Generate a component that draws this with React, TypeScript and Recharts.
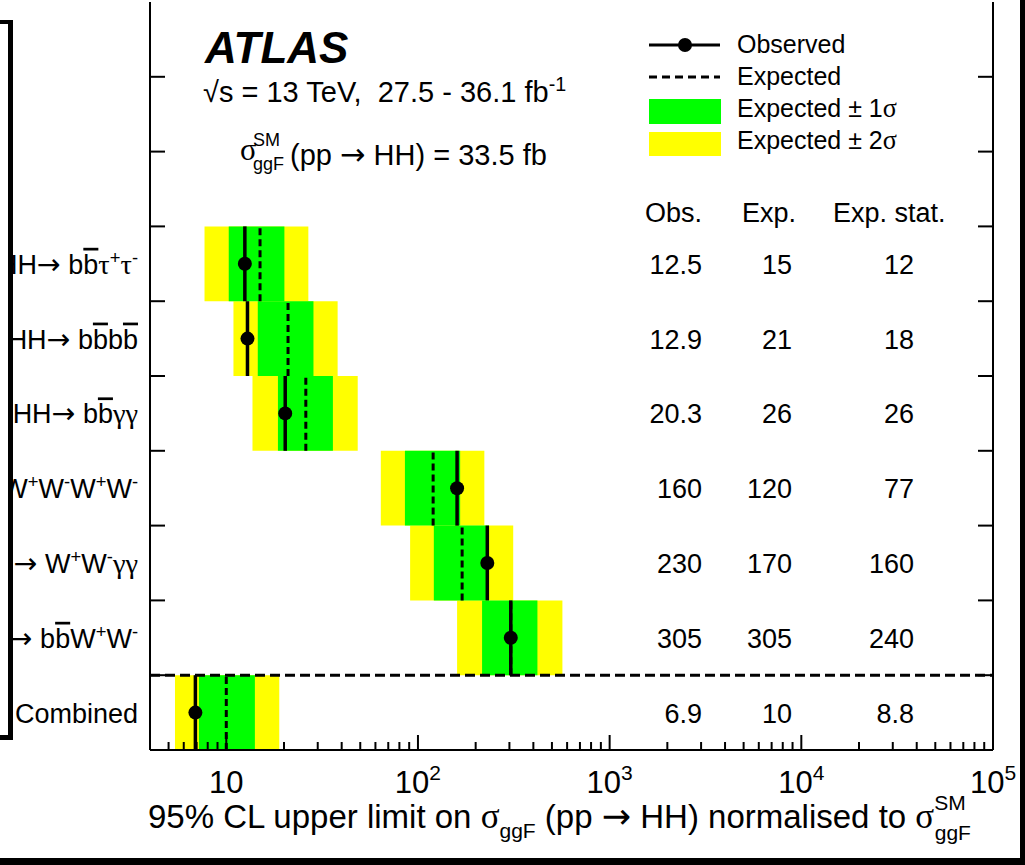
import React from 'react';
import { ComposedChart, XAxis, YAxis, ReferenceArea, ReferenceLine, Scatter, Legend } from 'recharts';

// rows from bottom (index 0) to top
const channels = ['Combined', 'HH→ bb̄W⁺W⁻', 'HH→ W⁺W⁻γγ', 'HH→ W⁺W⁻W⁺W⁻', 'HH→ bb̄γγ', 'HH→ bb̄bb̄', 'HH→ bb̄τ⁺τ⁻'];
const observed = [6.9, 305, 230, 160, 20.3, 12.9, 12.5];
const expected = [10, 305, 170, 120, 26, 21, 15];
const minus2 = [5.4, 160, 91, 64, 13.7, 10.9, 7.7];
const minus1 = [7.2, 216, 121, 85.5, 18.6, 14.6, 10.3];
const plus1 = [14.1, 420, 235, 166, 36, 28.5, 20.1];
const plus2 = [18.9, 567, 314, 222, 48.5, 38.1, 26.8];
const obsText = ['6.9', '305', '230', '160', '20.3', '12.9', '12.5'];
const expText = ['10', '305', '170', '120', '26', '21', '15'];
const statText = ['8.8', '240', '160', '77', '26', '18', '12'];
const tableHeaders = ['Obs.', 'Exp.', 'Exp. stat.'];

const majorTicks = [10, 100, 1000, 10000, 100000];
const minorTicks = [5, 6, 7, 8, 9, 20, 30, 40, 50, 60, 70, 80, 90, 200, 300, 400, 500, 600, 700, 800, 900,
  2000, 3000, 4000, 5000, 6000, 7000, 8000, 9000, 20000, 30000, 40000, 50000, 60000, 70000, 80000, 90000];
const xTicks = [...minorTicks, ...majorTicks].sort((a, b) => a - b);
const rowBoundaries = [1, 2, 3, 4, 5, 6, 7, 8, 9];
const rowCenters = [0.5, 1.5, 2.5, 3.5, 4.5, 5.5, 6.5];
const yTicks = [...rowBoundaries, ...rowCenters].sort((a, b) => a - b);

const legendItems = ['Observed', 'Expected', 'Expected ± 1σ', 'Expected ± 2σ'];

const SANS = "'Liberation Sans', Arial, Helvetica, sans-serif";
const SERIF = "'Liberation Serif', 'DejaVu Serif', serif";
const SYM = "'DejaVu Sans', sans-serif";
const GREEN = '#00ff00';
const YELLOW = '#ffff00';

type Tok = { t: string; k: 'n' | 'sup' | 'bar' | 'greek' | 'arrow' };
function tokenize(s: string): Tok[] {
  const chars = Array.from(s);
  const out: Tok[] = [];
  const supMap: Record<string, string> = { '⁺': '+', '⁻': '-', '¹': '1' };
  for (let i = 0; i < chars.length; i++) {
    const c = chars[i];
    if (c === '\u0304') continue;
    if (chars[i + 1] === '\u0304') { out.push({ t: c, k: 'bar' }); continue; }
    if (supMap[c]) { out.push({ t: supMap[c], k: 'sup' }); continue; }
    if ('τγσ'.includes(c)) { out.push({ t: c, k: 'greek' }); continue; }
    if (c === '→') { out.push({ t: c, k: 'arrow' }); continue; }
    const last = out[out.length - 1];
    if (last && last.k === 'n') last.t += c; else out.push({ t: c, k: 'n' });
  }
  return out;
}

function Rich({ s, size }: { s: string; size: number }) {
  const toks = tokenize(s);
  let cur = 0;
  return (
    <>
      {toks.map((tk, i) => {
        const want = tk.k === 'sup' ? -0.38 * size : 0;
        const dy = want - cur;
        cur = want;
        if (tk.k === 'sup') return <tspan key={i} dy={dy} fontSize={size * 0.68}>{tk.t}</tspan>;
        if (tk.k === 'bar') return <tspan key={i} dy={dy} textDecoration="overline" style={{ textDecoration: 'overline' }}>{tk.t}</tspan>;
        if (tk.k === 'greek') return <tspan key={i} dy={dy} fontFamily={SERIF} fontSize={size * 1.05}>{tk.t}</tspan>;
        if (tk.k === 'arrow') return <tspan key={i} dy={dy} fontFamily={SYM} fontSize={size * 1.05}>{tk.t}</tspan>;
        return <tspan key={i} dy={dy}>{tk.t}</tspan>;
      })}
    </>
  );
}

const isMajor = (v: number) => Math.abs(Math.log10(v) - Math.round(Math.log10(v))) < 1e-6;

function XTickBottom(props: any) {
  const { x, y, payload } = props;
  const v = payload.value;
  const major = isMajor(v);
  const e = Math.round(Math.log10(v));
  return (
    <g>
      <line x1={x} x2={x} y1={y} y2={y - (major ? 15 : 8)} stroke="#000" strokeWidth={2} />
      {major && (
        <text x={x} y={y + 43} textAnchor="middle" fontFamily={SANS} fontSize={31} fill="#000">
          10{e > 1 && <tspan dy={-13} fontSize={21}>{e}</tspan>}
        </text>
      )}
    </g>
  );
}

function XTickTop(props: any) {
  const { x, y, payload } = props;
  const major = isMajor(payload.value);
  return <line x1={x} x2={x} y1={y} y2={y + (major ? 15 : 8)} stroke="#000" strokeWidth={2} />;
}

function YTickLeft(props: any) {
  const { x, y, payload } = props;
  const v = payload.value;
  if (Number.isInteger(v)) return <line x1={x} x2={x + 15} y1={y} y2={y} stroke="#000" strokeWidth={2} />;
  const row = Math.round(v - 0.5);
  return (
    <text x={x - 12} y={y + 10} textAnchor="end" fontFamily={SANS} fontSize={27} fill="#000" style={{ whiteSpace: 'pre' }}>
      <Rich s={channels[row]} size={27} />
    </text>
  );
}

function YTickRight(props: any) {
  const { x, y, payload } = props;
  const v = payload.value;
  if (Number.isInteger(v)) return <line x1={x} x2={x - 15} y1={y} y2={y} stroke="#000" strokeWidth={2} />;
  const row = Math.round(v - 0.5);
  return (
    <g fontFamily={SANS} fontSize={27} fill="#000">
      <text x={x - 291} y={y + 10} textAnchor="end">{obsText[row]}</text>
      <text x={x - 201} y={y + 10} textAnchor="end">{expText[row]}</text>
      <text x={x - 79} y={y + 10} textAnchor="end">{statText[row]}</text>
    </g>
  );
}

function LegendBox() {
  const tx = 97;
  return (
    <svg width={340} height={140} style={{ overflow: 'visible' }}>
      <g fontFamily={SANS} fontSize={25} fill="#000">
        <line x1={9} x2={80} y1={20} y2={20} stroke="#000" strokeWidth={3} />
        <circle cx={45} cy={20} r={7} fill="#000" />
        <text x={tx} y={28}><Rich s={legendItems[0]} size={25} /></text>
        <line x1={9} x2={80} y1={52} y2={52} stroke="#000" strokeWidth={3} strokeDasharray="8 5" />
        <text x={tx} y={60}><Rich s={legendItems[1]} size={25} /></text>
        <rect x={9} y={74} width={72} height={25} fill={GREEN} />
        <text x={tx} y={92}><Rich s={legendItems[2]} size={25} /></text>
        <rect x={9} y={107} width={72} height={24} fill={YELLOW} />
        <text x={tx} y={124}><Rich s={legendItems[3]} size={25} /></text>
      </g>
    </svg>
  );
}

const obsPoints = observed.map((v, i) => ({ x: v, y: i + 0.5 }));

export default function App() {
  const rows = channels.map((_, i) => i);
  return (
    <div style={{ position: 'absolute', left: 0, top: 0, width: 1025, height: 865, background: '#fff', overflow: 'hidden' }}>
      <ComposedChart width={1025} height={865} margin={{ top: 2, right: 0, bottom: 0, left: 0 }}>
        <XAxis xAxisId="b" orientation="bottom" type="number" dataKey="x" scale="log" domain={[4, 100000]} allowDataOverflow
          ticks={xTicks} interval={0} height={115} tickSize={0} tickMargin={0} tickLine={false}
          axisLine={{ stroke: '#000', strokeWidth: 2 }} tick={(p: any) => <XTickBottom {...p} />} />
        <XAxis xAxisId="t" orientation="top" type="number" dataKey="x" scale="log" domain={[4, 100000]} allowDataOverflow
          ticks={xTicks} interval={0} height={0} tickSize={0} tickMargin={0} tickLine={false}
          axisLine={{ stroke: '#000', strokeWidth: 2 }} tick={(p: any) => <XTickTop {...p} />} />
        <YAxis yAxisId="l" orientation="left" type="number" dataKey="y" domain={[0, 10]} allowDataOverflow
          ticks={yTicks} interval={0} width={150} tickSize={0} tickMargin={0} tickLine={false}
          axisLine={{ stroke: '#000', strokeWidth: 2 }} tick={(p: any) => <YTickLeft {...p} />} />
        <YAxis yAxisId="r" orientation="right" type="number" dataKey="y" domain={[0, 10]} allowDataOverflow
          ticks={yTicks} interval={0} width={32} tickSize={0} tickMargin={0} tickLine={false}
          axisLine={{ stroke: '#000', strokeWidth: 2 }} tick={(p: any) => <YTickRight {...p} />} />

        {rows.map((i) => (
          <ReferenceArea key={'y' + i} xAxisId="b" yAxisId="l" x1={minus2[i]} x2={plus2[i]} y1={i} y2={i + 1}
            fill={YELLOW} fillOpacity={1} stroke="none" ifOverflow="visible" />
        ))}
        {rows.map((i) => (
          <ReferenceArea key={'g' + i} xAxisId="b" yAxisId="l" x1={minus1[i]} x2={plus1[i]} y1={i} y2={i + 1}
            fill={GREEN} fillOpacity={1} stroke="none" ifOverflow="visible" />
        ))}
        {rows.map((i) => (
          <ReferenceLine key={'e' + i} xAxisId="b" yAxisId="l" segment={[{ x: expected[i], y: i }, { x: expected[i], y: i + 1 }]}
            stroke="#000" strokeWidth={3} strokeDasharray="7 4" ifOverflow="visible" />
        ))}
        {rows.map((i) => (
          <ReferenceLine key={'o' + i} xAxisId="b" yAxisId="l" segment={[{ x: observed[i], y: i }, { x: observed[i], y: i + 1 }]}
            stroke="#000" strokeWidth={3.5} ifOverflow="visible" />
        ))}
        <ReferenceLine xAxisId="b" yAxisId="l" y={1} stroke="#000" strokeWidth={3} strokeDasharray="10 5" />
        <Scatter name="Observed" xAxisId="b" yAxisId="l" data={obsPoints} dataKey="y" fill="#000" isAnimationActive={false}
          shape={(p: any) => <circle cx={p.cx} cy={p.cy} r={7} fill="#000" />} />
        <Legend layout="vertical" align="center" verticalAlign="middle"
          wrapperStyle={{ position: 'absolute', left: 640, top: 25, width: 340, height: 140 }}
          content={() => <LegendBox />} />
      </ComposedChart>

      <svg width={1025} height={865} style={{ position: 'absolute', left: 0, top: 0, pointerEvents: 'none' }}>
        {/* frame decorations */}
        <rect x={0} y={20} width={8} height={720} fill="#fff" />
        <rect x={0} y={20} width={13} height={4} fill="#000" />
        <rect x={8} y={20} width={5} height={720} fill="#000" />
        <rect x={0} y={735} width={13} height={5} fill="#000" />
        <rect x={1020} y={0} width={5} height={865} fill="#000" />
        <rect x={0} y={858} width={1025} height={7} fill="#000" />

        <text x={205} y={63} fontFamily={SANS} fontSize={44} fontWeight="bold" fontStyle="italic" fill="#000">ATLAS</text>
        <text x={203} y={102} fontFamily={SANS} fontSize={29} fill="#000" style={{ whiteSpace: 'pre' }}>
          <Rich s={'√s = 13 TeV,  27.5 - 36.1 fb⁻¹'} size={29} />
        </text>
        <text x={240} y={160} fontFamily={SERIF} fontSize={31} fill="#000">σ</text>
        <text x={253} y={146} fontFamily={SANS} fontSize={18} fill="#000">SM</text>
        <text x={253} y={170} fontFamily={SANS} fontSize={18} fill="#000">ggF</text>
        <text x={290} y={165} fontFamily={SANS} fontSize={29} fill="#000" style={{ whiteSpace: 'pre' }}>
          <Rich s={'(pp → HH) = 33.5 fb'} size={29} />
        </text>

        <g fontFamily={SANS} fontSize={27} fill="#000">
          <text x={645} y={222}>{tableHeaders[0]}</text>
          <text x={742} y={222}>{tableHeaders[1]}</text>
          <text x={833} y={222}>{tableHeaders[2]}</text>
        </g>

        <text x={148} y={828} fontFamily={SANS} fontSize={33} fill="#000" style={{ whiteSpace: 'pre' }}>
          {'95% CL upper limit on '}
          <tspan fontFamily={SERIF} fontSize={35}>σ</tspan>
          <tspan dy={10} fontSize={21}>ggF</tspan>
          <tspan dy={-10}>{' (pp '}</tspan>
          <tspan fontFamily={SYM} fontSize={35}>→</tspan>
          <tspan>{' HH) normalised to '}</tspan>
          <tspan fontFamily={SERIF} fontSize={35}>σ</tspan>
          <tspan dy={-18} fontSize={21}>SM</tspan>
          <tspan dx={-31} dy={30} fontSize={21}>ggF</tspan>
        </text>
      </svg>
    </div>
  );
}
